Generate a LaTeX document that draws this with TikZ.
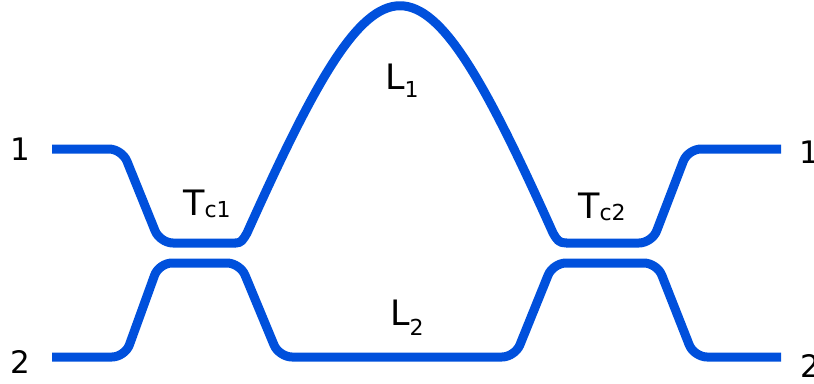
\documentclass[tikz,border=0pt]{standalone}
\usepackage{fontspec}
\setmainfont{DejaVu Sans}
\definecolor{wgblue}{RGB}{0,80,220}
\tikzset{
  guide/.style={draw=wgblue, line width=9pt, line join=round},
  portlabel/.style={anchor=base west, inner sep=0pt, font=\fontsize{31}{31}\selectfont},
  seclabel/.style={anchor=base west, inner sep=0pt, font=\fontsize{35}{35}\selectfont},
}
\newcommand{\subtxt}[2]{\raisebox{-#1}{\fontsize{22}{22}\selectfont #2}}
\begin{document}
\begin{tikzpicture}[x=1pt,y=-1pt]
\useasboundingbox (0,0) rectangle (814,383);
% coordinates of the upper guide (1)
\coordinate (a1) at (52,149);
\coordinate (a2) at (122,149);
\coordinate (a3) at (160,243);
\coordinate (a4) at (236,243);
\coordinate (a5) at (247,233);
\coordinate (a6) at (553,233);
\coordinate (a7) at (566,243);
\coordinate (a8) at (652,243);
\coordinate (a9) at (688,149);
\coordinate (a10) at (781,149);
% coordinates of the lower guide (2)
\coordinate (b1) at (52,357);
\coordinate (b2) at (125,357);
\coordinate (b3) at (159,263);
\coordinate (b4) at (240,263);
\coordinate (b5) at (279,357);
\coordinate (b6) at (515,357);
\coordinate (b7) at (553,263);
\coordinate (b8) at (657,263);
\coordinate (b9) at (694,357);
\coordinate (b10) at (781,357);
% upper guide
\draw[guide, rounded corners=13pt] (a1) -- (a2) -- (a3) -- (a4);
\draw[guide, line cap=round] (a4) .. controls (241,243) and (243,240) .. (a5)
  .. controls (383,-70) and (417,-70) .. (a6)
  .. controls (557,240) and (559,243) .. (a7);
\draw[guide, rounded corners=13pt] (a7) -- (a8) -- (a9) -- (a10);
% lower guide
\draw[guide, rounded corners=13pt] (b1) -- (b2) -- (b3) -- (b4) -- (b5) -- (b6) -- (b7) -- (b8) -- (b9) -- (b10);
% port labels
\node[portlabel] (p1l) at (10,160) {1};
\node[portlabel] (p2l) at (10,373) {2};
\node[portlabel] (p1r) at (799.6,163) {1};
\node[portlabel] (p2r) at (800.5,377) {2};
% section labels
\node[seclabel] (tc1) at (183,215) {T\subtxt{2pt}{c1}};
\node[seclabel] (tc2) at (578,218) {T\subtxt{2pt}{c2}};
\node[seclabel] (l1) at (385,89) {L\subtxt{8.7pt}{1}};
\node[seclabel] (l2) at (390,325) {L\subtxt{10pt}{2}};
\end{tikzpicture}
\end{document}
